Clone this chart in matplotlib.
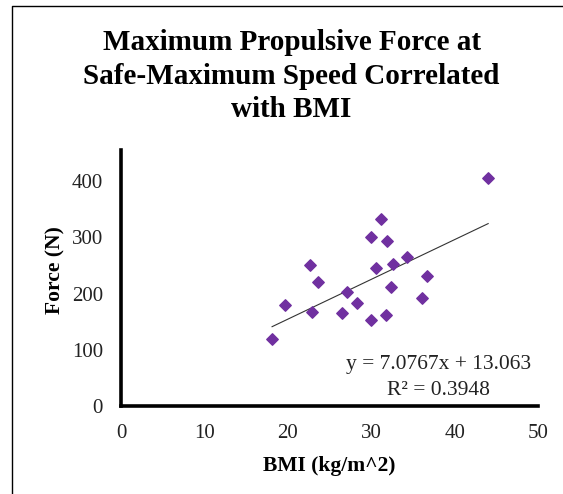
import matplotlib.pyplot as plt
import numpy as np
from matplotlib.lines import Line2D

plt.rcParams['font.family'] = ['Liberation Serif', 'DejaVu Serif']

bmi = [18.1, 19.7, 22.7, 22.9, 23.6, 26.5, 27.1, 28.3, 29.9, 29.9,
       30.5, 31.1, 31.9, 31.8, 32.4, 32.6, 34.3, 36.1, 36.7, 44.0]
force = [120, 180, 251, 168, 221, 165, 203, 184, 300, 153,
         246, 332, 293, 162, 211, 253, 265, 193, 232, 406]
slope, intercept = 7.0767, 13.063
eq_text = 'y = 7.0767x + 13.063\nR² = 0.3948'

fig = plt.figure(figsize=(5.63, 4.94), dpi=100)
ax = fig.add_axes([0.215, 0.178, 0.741, 0.518])

ax.scatter(bmi, force, marker='D', s=34, color='#7030A0', zorder=3)

xs = np.array([min(bmi), max(bmi)])
ax.plot(xs, slope * xs + intercept, color='#333333', lw=0.8, zorder=2)

ax.set_xlim(0, 50)
ax.set_ylim(0, 455)
ax.set_xticks(range(0, 51, 10))
ax.set_yticks(range(0, 401, 100))
ax.tick_params(length=0, labelsize=15, colors='#222222')
ax.tick_params(axis='y', pad=13)
ax.tick_params(axis='x', pad=13)
for side in ('top', 'right'):
    ax.spines[side].set_visible(False)
for side in ('left', 'bottom'):
    ax.spines[side].set_linewidth(2.6)

ax.set_xlabel('BMI (kg/m^2)', fontsize=15.5, fontweight='bold', labelpad=9)
ax.set_ylabel('Force (N)', fontsize=15.5, fontweight='bold')
ax.yaxis.set_label_coords(-0.132, 0.53)

ax.text(38, 50, eq_text, fontsize=15.5, ha='center', va='center',
        color='#222222', linespacing=1.5)

fig.text(0.518, 0.846, 'Maximum Propulsive Force at\nSafe-Maximum Speed Correlated\nwith BMI',
         ha='center', va='center', fontsize=21, fontweight='bold', linespacing=1.3)

fig.add_artist(Line2D([12/563, 12/563, 1], [0, 1 - 6/494, 1 - 6/494],
                      transform=fig.transFigure, color='black', lw=1))

fig.savefig('out.png', dpi=100)
